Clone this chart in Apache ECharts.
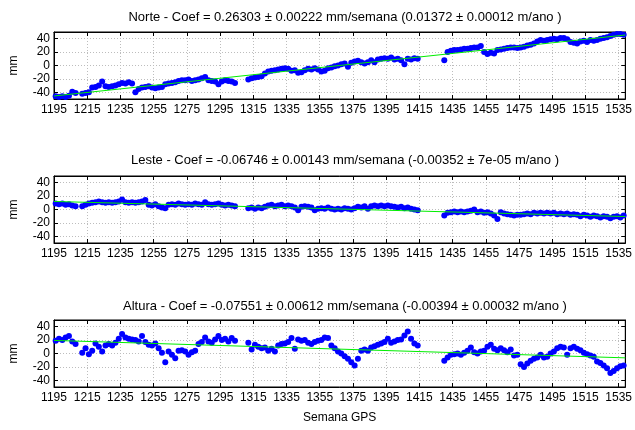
<!DOCTYPE html>
<html lang="pt">
<head>
    <meta charset="UTF-8">
    <title>Series temporais GPS</title>
    <style type="text/css">
        *{ margin: 0; padding: 0; }
        #main{ width: 635px; height: 430px; background: #fff; }
    </style>
</head>
<body>
    <div id="main"></div>
    <script src="https://cdn.jsdelivr.net/npm/echarts@6/dist/echarts.min.js"></script>
    <script type="text/javascript">
        // semanas GPS (mesmas para as tres componentes)
        var semanas = [
            1196, 1198, 1200, 1202, 1204, 1206, 1208,
            1212, 1214, 1216, 1218, 1220, 1222, 1224, 1226, 1228, 1230,
            1232, 1234, 1236, 1238, 1240, 1242, 1244, 1246, 1248, 1250,
            1252, 1254, 1256, 1258, 1260, 1262, 1264, 1266, 1268, 1270,
            1272, 1274, 1276, 1278, 1280, 1282, 1284, 1286, 1288, 1290,
            1292, 1294, 1296, 1298, 1300, 1302, 1304,
            1312, 1314, 1316, 1318, 1320, 1322, 1324, 1326, 1328, 1330,
            1332, 1334, 1336, 1338, 1340, 1342, 1344, 1346, 1348, 1350,
            1352, 1354, 1356, 1358, 1360, 1362, 1364, 1366, 1368, 1370,
            1372, 1374, 1376, 1378, 1380, 1382, 1384, 1386, 1388, 1390,
            1392, 1394, 1396, 1398, 1400, 1402, 1404, 1406, 1408, 1410,
            1412, 1414,
            1430, 1432, 1434, 1436, 1438, 1440, 1442, 1444, 1446, 1448,
            1450, 1452, 1454, 1456, 1458, 1460, 1462, 1464, 1466, 1468,
            1470, 1472, 1474, 1476, 1478, 1480, 1482, 1484, 1486, 1488,
            1490, 1492, 1494, 1496, 1498, 1500, 1502, 1504, 1506, 1508,
            1510, 1512, 1514, 1516, 1518, 1520, 1522, 1524, 1526, 1528,
            1530, 1532, 1534, 1536, 1538
        ];

        // deslocamentos em mm
        var norte = [
            -46, -47, -46, -47, -45, -39, -41,
            -42, -41, -40, -33, -32, -30, -24, -31, -32, -31,
            -30, -28, -26, -27, -25, -27, -40, -35, -33, -32,
            -31, -33, -34, -33, -32, -28, -27, -26, -25, -23,
            -22, -22, -21, -23, -22, -21, -19, -17, -22, -23,
            -24, -28, -24, -22, -23, -24, -26,
            -21, -19, -18, -17, -16, -12, -9, -8, -7, -6,
            -5, -4, -5, -8, -7, -11, -10, -7, -5, -6,
            -4, -6, -9, -8, -4, -3, -1, 0, 2, 3,
            -2, 4, 6, 7, 5, 3, 5, 8, 5, 9,
            10, 11, 10, 12, 9, 10, 8, 2, 10, 9,
            11, 10,
            8, 20, 22, 23, 23, 24, 25, 25, 26, 27,
            27, 29, 20, 17, 19, 18, 23, 24, 25, 26,
            27, 27, 26, 27, 28, 30, 31, 33, 36, 38,
            37, 38, 39, 40, 39, 41, 41, 39, 35, 34,
            33, 36, 37, 35, 38, 37, 38, 40, 41, 42,
            44, 46, 47, 47, 46
        ];

        var leste = [
            9, 8, 9, 7, 8, 6, 5,
            5, 7, 9, 10, 11, 12, 11, 10, 11, 10,
            11, 12, 15, 11, 10, 11, 10, 11, 12, 14,
            7, 6, 8, 5, 3, 2, 7, 8, 7, 9,
            8, 7, 8, 7, 9, 8, 7, 11, 8, 7,
            8, 9, 7, 6, 7, 6, 5,
            2, 3, 1, 3, 2, 4, 6, 7, 5, 6,
            7, 5, 6, 5, 3, -1, 4, 5, 4, 3,
            -1, 1, 2, 1, 3, 1, 0, 1, 0, 2,
            1, 0, 2, 4, 3, 5, 1, 5, 6, 5,
            6, 5, 6, 5, 4, 3, 4, 2, 3, 1,
            0, -1,
            -9, -5, -4, -3, -4, -3, -4, -3, -2, 0,
            -4, -3, -5, -4, -6, -9, -14, -4, -6, -7,
            -8, -9, -8, -8, -7, -6, -7, -5, -6, -5,
            -6, -5, -6, -5, -7, -6, -7, -6, -8, -7,
            -8, -10, -8, -9, -11, -9, -10, -12, -10, -11,
            -13, -11, -10, -12, -9
        ];

        var altura = [
            19, 22, 20, 24, 26, 18, 14,
            1, 8, -1, 4, 15, 10, 3, 12, 14, 12,
            16, 22, 29, 24, 22, 21, 20, 18, 26, 17,
            13, 12, 15, 8, 1, -13, 3, -2, -7, 4,
            5, 3, -2, 2, 4, 14, 17, 24, 18, 16,
            21, 26, 20, 22, 18, 23, 19,
            16, 6, 13, 10, 8, 9, 4, 7, 3, 12,
            14, 15, 17, 23, 7, 21, 19, 20, 16, 14,
            17, 19, 20, 24, 23, 12, 8, 3, 0, -4,
            -8, -13, -18, -8, 4, 6, 4, 9, 11, 13,
            15, 17, 22, 16, 18, 20, 21, 27, 33, 22,
            15, 12,
            -11, -6, -2, -1, 0, -2, 1, 4, 9, 2,
            0, 3, 4, 10, 13, 7, 5, 8, 5, 2,
            6, -3, -2, -16, -20, -15, -11, -8, -6, -2,
            -6, -5, 0, 3, 8, 10, 9, -2, 8, 10,
            7, 5, 1, -1, -3, -5, -12, -14, -18, -22,
            -29, -26, -22, -19, -18
        ];

        // retas de tendencia (extremos)
        var tendNorte = [[1195, -45.5], [1539, 45.5]];
        var tendLeste = [[1195, 12], [1539, -10.5]];
        var tendAltura = [[1195, 19.5], [1539, -6.5]];

        var ticksX = [1195, 1215, 1235, 1255, 1275, 1295, 1315, 1335, 1355, 1375,
                      1395, 1415, 1435, 1455, 1475, 1495, 1515, 1535];
        var ticksY = [-40, -20, 0, 20, 40];

        var titulos = [
            'Norte - Coef = 0.26303 \u00b1 0.00222 mm/semana (0.01372 \u00b1 0.00012 m/ano )',
            'Leste - Coef = -0.06746 \u00b1 0.00143 mm/semana (-0.00352 \u00b1 7e-05 m/ano )',
            'Altura - Coef = -0.07551 \u00b1 0.00612 mm/semana (-0.00394 \u00b1 0.00032 m/ano )'
        ];

        var fonte = '"Liberation Sans", Arial, Helvetica, sans-serif';
        var series3 = [norte, leste, altura];
        var tends = [tendNorte, tendLeste, tendAltura];
        var tops = [32, 176, 320];
        var titleTops = [6, 149, 295];

        var myChart = echarts.init(document.getElementById('main'));
        var option = {
            animation: false,
            backgroundColor: '#fff',
            title: [],
            grid: [],
            xAxis: [],
            yAxis: [],
            series: []
        };

        function semFormato(v) { return String(v); }

        for (var i = 0; i < 3; i++) {
            option.title.push({
                text: titulos[i],
                left: 340,
                top: titleTops[i],
                textAlign: 'center',
                textStyle: { fontFamily: fonte, fontSize: 13, fontWeight: 'normal', color: '#000' }
            });
            option.grid.push({
                left: 53, right: 8, top: tops[i], height: 67,
                show: true, borderColor: '#000', borderWidth: 1, backgroundColor: 'transparent'
            });
            // eixo x de baixo
            option.xAxis.push({
                gridIndex: i, type: 'value', min: 1195, max: 1539,
                name: i == 2 ? 'Semana GPS' : '',
                nameLocation: 'middle', nameGap: 25,
                nameTextStyle: { fontFamily: fonte, fontSize: 12, color: '#000' },
                axisLine: { onZero: false, lineStyle: { color: '#000' } },
                axisTick: { inside: true, length: 4, customValues: ticksX, lineStyle: { color: '#000' } },
                axisLabel: { customValues: ticksX, formatter: semFormato, color: '#000', fontSize: 12, fontFamily: fonte, margin: 5 },
                splitLine: { show: true, lineStyle: { color: '#bdbdbd', type: [1, 2], width: 1 } }
            });
            // espelho em cima
            option.xAxis.push({
                gridIndex: i, type: 'value', min: 1195, max: 1539, position: 'top',
                axisLine: { onZero: false, lineStyle: { color: '#000' } },
                axisTick: { inside: true, length: 4, customValues: ticksX, lineStyle: { color: '#000' } },
                axisLabel: { show: false },
                splitLine: { show: false }
            });
            option.yAxis.push({
                gridIndex: i, type: 'value', min: -50, max: 50,
                name: 'mm', nameLocation: 'middle', nameGap: 34, nameRotate: 90,
                nameTextStyle: { fontFamily: fonte, fontSize: 12, color: '#000' },
                axisLine: { show: true, onZero: false, lineStyle: { color: '#000' } },
                axisTick: { show: true, inside: true, length: 4, customValues: ticksY, lineStyle: { color: '#000' } },
                axisLabel: { customValues: ticksY, color: '#000', fontSize: 12, fontFamily: fonte, margin: 4 },
                splitLine: { show: true, lineStyle: { color: '#bdbdbd', type: [1, 2], width: 1 } }
            });
            option.yAxis.push({
                gridIndex: i, type: 'value', min: -50, max: 50, position: 'right',
                axisLine: { show: true, onZero: false, lineStyle: { color: '#000' } },
                axisTick: { show: true, inside: true, length: 4, customValues: ticksY, lineStyle: { color: '#000' } },
                axisLabel: { show: false },
                splitLine: { show: false }
            });

            var valores = series3[i];
            var pontos = semanas.map(function (w, k) { return [w, valores[k]]; });
            option.series.push({
                type: 'scatter',
                xAxisIndex: 2 * i, yAxisIndex: 2 * i,
                data: pontos,
                symbolSize: 6,
                itemStyle: { color: '#0000ff', opacity: 1 }
            });
            option.series.push({
                type: 'line',
                xAxisIndex: 2 * i, yAxisIndex: 2 * i,
                data: tends[i],
                showSymbol: false,
                lineStyle: { color: '#00ee00', width: 1 },
                z: 3
            });
        }

        myChart.setOption(option);
    </script>
</body>
</html>
